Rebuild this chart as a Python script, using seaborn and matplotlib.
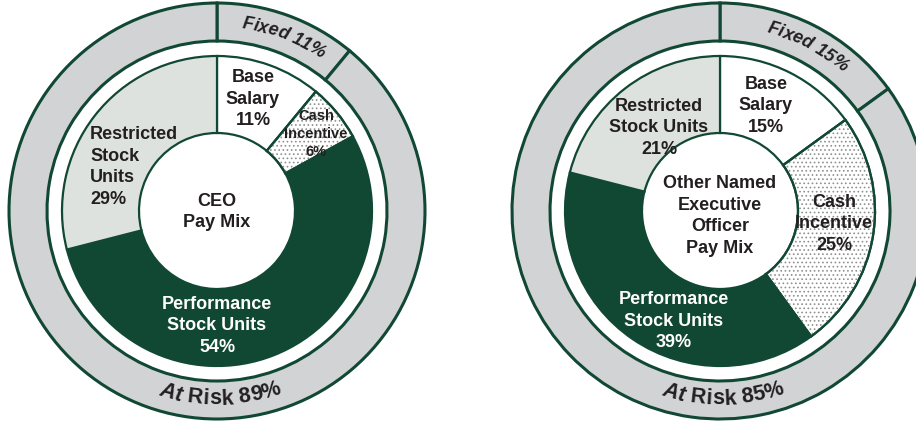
import numpy as np
import matplotlib
matplotlib.use("Agg")
import matplotlib.pyplot as plt
from matplotlib.patches import Wedge
from matplotlib.font_manager import FontProperties
from matplotlib.textpath import text_to_path
import seaborn as sns

# ---------------- data ----------------
components = ["Base Salary", "Cash Incentive", "Performance Stock Units", "Restricted Stock Units"]
ceo_values = [11, 6, 54, 29]
neo_values = [15, 25, 39, 21]
ring_labels = ["Fixed", "At Risk"]
ceo_ring = [11, 89]
neo_ring = [15, 85]
ceo_title = "CEO\nPay Mix"
neo_title = "Other Named\nExecutive\nOfficer\nPay Mix"

# ---------------- style ----------------
sns.set_theme(style="white")
plt.rcParams["font.family"] = ["Liberation Sans", "DejaVu Sans"]
plt.rcParams["hatch.linewidth"] = 0.7

GREEN = "#114834"
RING = "#d1d3d4"
RSU = "#dde2df"
TXT = "#231f20"
DOT = "#8f9190"

W, H = 916, 422
fig = plt.figure(figsize=(W / 100, H / 100), dpi=100)
ax = fig.add_axes([0, 0, 1, 1])

R_OUT, R_RING_IN, R_IN, R_HOLE = 208, 170, 155, 78
PT2PX = 100 / 72
LS = 1.38


def char_widths(s, fp):
    ws = [0.0]
    for i in range(1, len(s) + 1):
        w, _, _ = text_to_path.get_text_width_height_descent(s[:i], fp, ismath=False)
        ws.append(w * PT2PX)
    return ws


def arc_text(cx, cy, r, theta_mid, s, size, top=True, styles=None):
    fp = FontProperties(family="Liberation Sans", weight="bold", size=size)
    ws = char_widths(s, fp)
    total = ws[-1]
    for i, ch in enumerate(s):
        sc = (ws[i] + ws[i + 1]) / 2
        off = np.degrees((total / 2 - sc) / r)
        if top:
            th = theta_mid + off
            rot = th - 90
        else:
            th = theta_mid - off
            rot = th + 90
        st = styles[i] if styles is not None else "normal"
        ax.text(cx + r * np.cos(np.radians(th)), cy + r * np.sin(np.radians(th)), ch,
                rotation=rot, rotation_mode="anchor", ha="center", va="center",
                fontsize=size, fontweight="bold", fontstyle=st, color=TXT)


def donut(cx, cy, values, ring, title, labels_cfg, ring_text):
    cy_d = H - cy
    # outer ring
    ax.pie(ring, radius=R_OUT, center=(cx, cy_d), startangle=90, counterclock=False,
           colors=[RING, RING], frame=True,
           wedgeprops=dict(width=R_OUT - R_RING_IN, edgecolor=GREEN, linewidth=2.2))
    # inner donut
    wedges, _ = ax.pie(values, radius=R_IN, center=(cx, cy_d), startangle=90, counterclock=False,
                       colors=["white", "white", GREEN, RSU], frame=True,
                       wedgeprops=dict(width=R_IN - R_HOLE, edgecolor=GREEN, linewidth=1.6))
    cw = wedges[1]
    ax.add_patch(Wedge(cw.center, cw.r, cw.theta1, cw.theta2, width=cw.width,
                       fill=False, hatch="....", edgecolor=DOT, linewidth=0, zorder=1.5))
    ax.add_patch(Wedge(cw.center, cw.r, cw.theta1, cw.theta2, width=cw.width,
                       fill=False, edgecolor=GREEN, linewidth=1.6, zorder=1.6))
    # center title
    ax.text(cx, H - labels_cfg["title"][1], title, ha="center", va="center", fontsize=13,
            fontweight="bold", color=TXT, linespacing=LS, zorder=3)
    for val, key in zip(values, ["base", "cash", "psu", "rsu"]):
        x, y, txt, fs, ha = labels_cfg[key]
        ax.text(x, H - y, txt.format(v=val), ha=ha, va="center", fontsize=fs, fontweight="bold",
                color="white" if key == "psu" else TXT, linespacing=LS, zorder=3)
    # ring texts
    fixed_txt = f"{ring_labels[0]} {ring[0]}%"
    risk_txt = f"{ring_labels[1]} {ring[1]}%"
    arc_text(cx, cy_d, 189, ring_text[0], fixed_txt, 13, top=True,
             styles=["italic"] * len(fixed_txt))
    arc_text(cx, cy_d, 188, ring_text[1], risk_txt, 15.5, top=False,
             styles=["italic", "italic"] + ["normal"] * (len(risk_txt) - 2))


donut(217, 211, ceo_values, ceo_ring, ceo_title,
      {"title": (218, 212),
       "base": (253, 99, "Base\nSalary\n{v}%", 13, "center"),
       "cash": (316, 134, "Cash\nIncentive\n{v}%", 10.5, "center"),
       "psu": (217, 326, "Performance\nStock Units\n{v}%", 13, "center"),
       "rsu": (90, 167, "Restricted\nStock\nUnits\n{v}%", 13, "left")},
      (69, -89))

donut(720, 211, neo_values, neo_ring, neo_title,
      {"title": (718, 216),
       "base": (766, 106, "Base\nSalary\n{v}%", 13, "center"),
       "cash": (834, 224, "Cash\nIncentive\n{v}%", 13, "center"),
       "psu": (674, 321, "Performance\nStock Units\n{v}%", 13, "center"),
       "rsu": (659, 128, "Restricted\nStock Units\n{v}%", 13, "center")},
      (62, -89))

ax.set_xlim(0, W)
ax.set_ylim(0, H)
ax.set_aspect("equal")
ax.axis("off")
fig.savefig("out.png", dpi=100, facecolor="white")
